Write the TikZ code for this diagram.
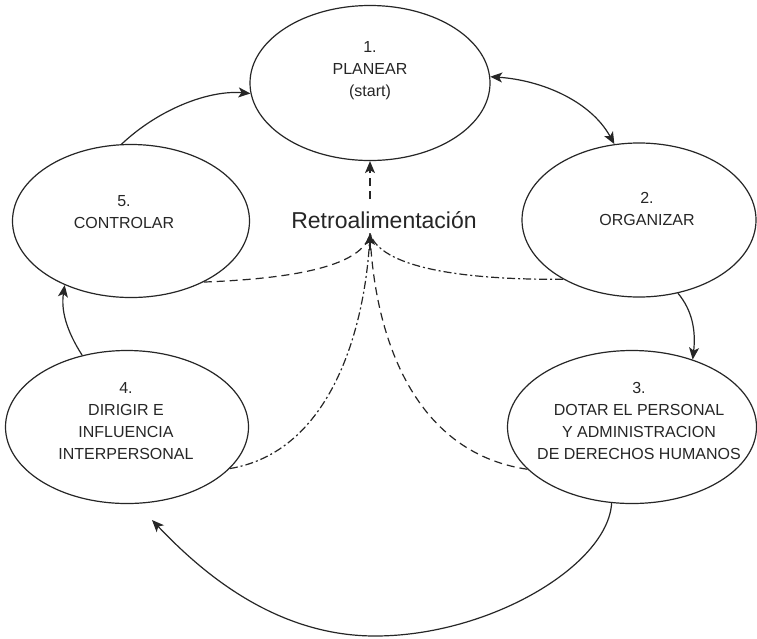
\documentclass[tikz,border=0pt]{standalone}
\usepackage{fontspec}
\setmainfont{Liberation Sans}
\usetikzlibrary{shapes.geometric,arrows.meta}
\begin{document}
\begin{tikzpicture}[x=1pt,y=-1pt,
  oval/.style={draw=black!85, ellipse, inner sep=0pt, line width=1.2pt},
  lbl/.style={align=center, font=\fontsize{16}{22}\selectfont, inner sep=0pt, text=black!85},
  tip/.style={-{Stealth[length=12pt,width=10pt,inset=3pt]}},
  flow/.style={draw=black!85, line width=1.2pt},
  fbdash/.style={draw=black!85, line width=1.2pt, dash pattern=on 8pt off 5pt},
  fbdot/.style={draw=black!85, line width=1.2pt, dash pattern=on 8pt off 3pt on 2pt off 3pt},
]
\path[use as bounding box, fill=white] (0,0) rectangle (757,638);

% ellipses
\node[oval, minimum width=240pt, minimum height=155pt] (e1) at (370,83) {};
\node[oval, minimum width=237pt, minimum height=153pt] (e5) at (131,221) {};
\node[oval, minimum width=234pt, minimum height=154pt] (e2) at (639,220) {};
\node[oval, minimum width=243pt, minimum height=153pt] (e4) at (127,427) {};
\node[oval, minimum width=249pt, minimum height=153pt] (e3) at (632,427) {};

% labels
\node[lbl] (t1) at (370,71) {1.\\PLANEAR\\(start)};
\node[lbl] (t5) at (124,212) {5.\\CONTROLAR};
\node[lbl] (t2) at (647,209) {2.\\ORGANIZAR};
\node[lbl] (t4) at (126,421) {4.\\DIRIGIR E\\INFLUENCIA\\INTERPERSONAL};
\node[lbl] (t3) at (639,421) {3.\\DOTAR EL PERSONAL\\Y ADMINISTRACION\\DE DERECHOS HUMANOS};
\node[anchor=base, inner sep=0pt, font=\fontsize{23}{26}\selectfont, text=black!85] (retro) at (384,228) {Retroalimentación};

% feedback coordinates
\coordinate (fbout) at (370,199);
\coordinate (fbin) at (370,233);
\coordinate (c4) at (152,520);
\coordinate (bot) at (375,636);

% solid cycle arrows
\draw[flow, tip] (e5.97) .. controls (160,108) and (210,90) .. (e1.185);
\draw[flow, {Stealth[length=12pt,width=10pt,inset=3pt]}-{Stealth[length=12pt,width=10pt,inset=3pt]}] (e1.3) .. controls (540,80) and (590,100) .. (e2.108);
\draw[flow, tip] (e2.-62) .. controls (692,310) and (696,330) .. (e3.48);
\draw[flow, tip] (e3.-105) .. controls (608,565) and (490,636) .. (bot) .. controls (270,636) and (195,565) .. (c4);
\draw[flow, tip] (e4.122) .. controls (66,330) and (61,310) .. (e5.-136);

% feedback
\draw[fbdash, tip] (fbout) -- (e1.south);
\draw[fbdash] (e5.-40) .. controls (310,278) and (365,262) .. (fbin);
\draw[fbdot] (e2.-142) .. controls (440,280) and (378,262) .. (fbin);
\draw[fbdot] (e4.-22) .. controls (330,452) and (366,330) .. (fbin);
\draw[fbdash] (e3.-158) .. controls (410,452) and (374,330) .. (fbin);
\draw[fbdash, tip] (370,250) -- (fbin);
\end{tikzpicture}
\end{document}
